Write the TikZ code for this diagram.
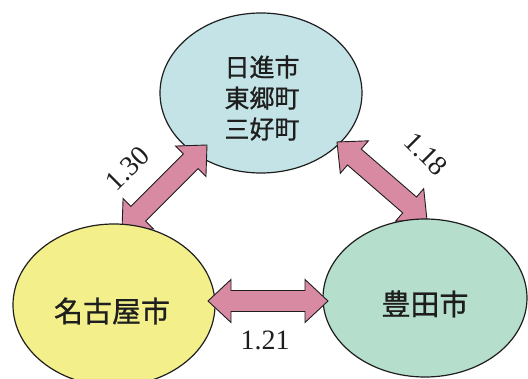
\documentclass[tikz,border=0pt]{standalone}
\usepackage{fontspec}
\setmainfont{Liberation Serif}
\newfontfamily\jpfont[FakeBold=0.9]{Noto Sans CJK JP}
\usetikzlibrary{shapes.geometric,calc}
\definecolor{topfill}{HTML}{C3E3E6}
\definecolor{nagoyafill}{HTML}{F3F08C}
\definecolor{toyotafill}{HTML}{B6DECC}
\definecolor{arrowpink}{HTML}{D98AA3}
\definecolor{inkc}{HTML}{1E1E1E}
\tikzset{
  city/.style={ellipse, draw=inkc, line width=1.2pt, inner sep=0pt},
  cityname/.style={text=inkc, align=center, inner sep=0pt},
  fatarr/.style={draw=inkc, line width=0.9pt, fill=arrowpink, line join=miter},
  ratio/.style={font=\fontsize{28}{28}\selectfont, text=inkc, inner sep=0pt},
}
% fat double arrow between two named points: head length 23, head half width 21.5, shaft half width 10.5
\newcommand\fatarrow[2]{%
  \draw[fatarr] (#1)
    -- ($(#1)!23pt!(#2)!21.5pt!90:(#2)$)
    -- ($(#1)!23pt!(#2)!10.5pt!90:(#2)$)
    -- ($(#2)!23pt!(#1)!10.5pt!-90:(#1)$)
    -- ($(#2)!23pt!(#1)!21.5pt!-90:(#1)$)
    -- (#2)
    -- ($(#2)!23pt!(#1)!21.5pt!90:(#1)$)
    -- ($(#2)!23pt!(#1)!10.5pt!90:(#1)$)
    -- ($(#1)!23pt!(#2)!10.5pt!-90:(#2)$)
    -- ($(#1)!23pt!(#2)!21.5pt!-90:(#2)$)
    -- cycle;}
\begin{document}
\begin{tikzpicture}[x=1pt,y=-1pt]
\useasboundingbox (0,0) rectangle (528,379);
\fill[white] (0,0) rectangle (528,379);
% centres
\coordinate (T) at (261,93);
\coordinate (N) at (114,305);
\coordinate (Y) at (425,298);
% top ellipse
\node[city, fill=topfill, minimum width=202pt, minimum height=160pt] (top) at (T) {};
\node[cityname, font=\jpfont\fontsize{25}{31}\selectfont] (toptext) at ($(T)+(1,5)$) {日進市\\東郷町\\三好町};
% arrow tips
\coordinate (l1) at ($(T)+(-54,52)$);
\coordinate (l2) at ($(N)+(8,-75)$);
\coordinate (r1) at ($(T)+(76,49)$);
\coordinate (r2) at ($(Y)+(2,-78)$);
\coordinate (h1) at ($(N)+(94,-4)$);
\coordinate (h2) at ($(Y)+(-97,3)$);
% diagonal arrows (under the lower ellipses)
\fatarrow{l2}{l1}
\fatarrow{r1}{r2}
% lower ellipses
\node[city, fill=nagoyafill, minimum width=202pt, minimum height=162pt] (nagoya) at (N) {};
\node[cityname, font=\jpfont\fontsize{29}{29}\selectfont] (nagoyatext) at ($(N)+(-2,6)$) {名古屋市};
\node[city, fill=toyotafill, minimum width=204pt, minimum height=158pt] (toyota) at (Y) {};
\node[cityname, font=\jpfont\fontsize{29}{29}\selectfont] (toyotatext) at ($(Y)+(0,6)$) {豊田市};
% horizontal arrow
\fatarrow{h1}{h2}
% ratios
\node[ratio, rotate=45] (q1) at ($(l1)!0.5!(l2)+(-37,-19)$) {1.30};
\node[ratio, rotate=-45] (q2) at ($(r1)!0.5!(r2)+(44,-27)$) {1.18};
\node[ratio] (q3) at ($(h1)!0.5!(h2)+(-3,39)$) {1.21};
\end{tikzpicture}
\end{document}
